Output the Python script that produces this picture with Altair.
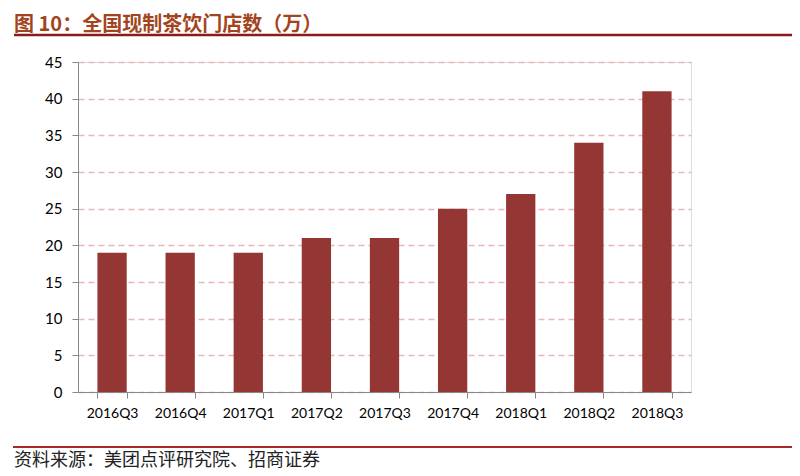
import altair as alt
import pandas as pd

quarters = ["2016Q3", "2016Q4", "2017Q1", "2017Q2", "2017Q3", "2017Q4", "2018Q1", "2018Q2", "2018Q3"]
stores = [19, 19, 19, 21, 21, 25, 27, 34, 41]
y_ticks = [0, 5, 10, 15, 20, 25, 30, 35, 40, 45]
title_text = ["图 10：全国现制茶饮门店数（万）"]
source_text = ["资料来源：美团点评研究院、招商证券"]

df = pd.DataFrame({"quarter": quarters, "stores": stores})

W, H = 613, 330
FONT = "Lato"

bars = alt.Chart(df).mark_bar(color="#943634").encode(
    x=alt.X("quarter:N", sort=quarters, title=None,
            scale=alt.Scale(paddingInner=0.57, paddingOuter=0.285),
            axis=alt.Axis(labelAngle=0, labelFont=FONT, labelFontSize=14, labelColor="#000000",
                          domainColor="#888888", tickColor="#888888", tickSize=6,
                          tickBand="extent", labelPadding=8, grid=False)),
    y=alt.Y("stores:Q", title=None,
            scale=alt.Scale(domain=[0, 45], nice=False),
            axis=alt.Axis(values=y_ticks, labelFont=FONT, labelFontSize=15, labelColor="#000000",
                          domainColor="#888888", tickColor="#888888", tickSize=6, labelPadding=10,
                          grid=True, gridColor="#E6B8B8", gridDash=[6, 4], gridWidth=1.3)),
)

one = pd.DataFrame({"t": title_text})
title = alt.Chart(one).mark_text(
    align="left", baseline="middle", font="Noto Sans CJK SC", fontSize=20, fontWeight="bold",
    color="#A2451E"
).encode(text="t:N", x=alt.value(-64), y=alt.value(-37))

src = alt.Chart(pd.DataFrame({"t": source_text})).mark_text(
    align="left", baseline="middle", font="Noto Sans CJK SC", fontSize=18, color="#222222"
).encode(text="t:N", x=alt.value(-64), y=alt.value(399))

top_line = alt.Chart(one).mark_rule(color="#8B1A1A", strokeWidth=2.5).encode(
    x=alt.value(-64), x2=alt.value(720), y=alt.value(-27))
bottom_line = alt.Chart(one).mark_rule(color="#A52A2A", strokeWidth=1.8).encode(
    x=alt.value(-65), x2=alt.value(720), y=alt.value(385))

chart = alt.layer(bars, top_line, bottom_line, title, src).properties(
    width=W, height=H,
    autosize=alt.AutoSizeParams(type="none"),
    padding={"left": 70, "top": 54, "right": 101, "bottom": 90},
).configure_view(stroke=None).configure(background="white")

chart.save("out.html", embed_options={"renderer": "svg", "actions": False})
